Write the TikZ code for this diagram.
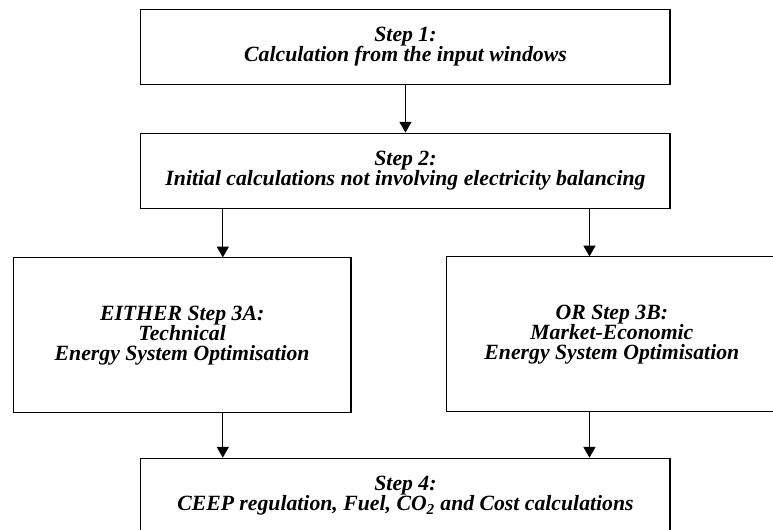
\documentclass[tikz,border=0pt]{standalone}
\usepackage{fontspec}
\setmainfont{Liberation Serif}
\usetikzlibrary{arrows.meta,positioning}
\newcommand\stepfont{\fontsize{16.3}{15}\selectfont\setlength{\lineskiplimit}{-10pt}\bfseries\itshape}
\tikzset{
  block/.style={draw=black, line width=0.8pt, align=center, fill=white,
    minimum width=396.75pt, minimum height=56.25pt, inner sep=4pt,
    font=\stepfont},
  tallblock/.style={block, minimum height=116.25pt},
  arr/.style={-{Triangle[length=8pt,width=9pt]}, line width=0.8pt}
}
\begin{document}
\begin{tikzpicture}
  \node[block] (s1) {Step 1:\\Calculation from the input windows};
  \useasboundingbox ([shift={(-304.1pt,34.9pt)}]s1.center) rectangle ++(579.75pt,-396.75pt);
  \node[block, below=36pt of s1] (s2) {Step 2:\\Initial calculations not involving electricity balancing};
  \node[tallblock, below=36.5pt of s2, xshift=-167.5pt, minimum width=253.3pt] (s3a)
    {EITHER Step 3A:\\Technical\\Energy System Optimisation};
  \node[tallblock, below=35.8pt of s2, xshift=154.8pt, minimum width=247.5pt, minimum height=116pt] (s3b)
    {OR Step 3B:\\Market-Economic\\Energy System Optimisation};
  \node[block, below=186.75pt of s2] (s4) {Step 4:\\CEEP regulation, Fuel, CO\textsubscript{2} and Cost calculations};
  \draw[arr] (s1) -- (s2);
  \draw[arr] ([xshift=-137pt]s2.south) -- ([xshift=-137pt]s2.south |- s3a.north);
  \draw[arr] ([xshift=138pt]s2.south) -- ([xshift=138pt]s2.south |- s3b.north);
  \draw[arr] ([xshift=-137pt]s4.north |- s3a.south) -- ([xshift=-137pt]s4.north);
  \draw[arr] ([xshift=138pt]s4.north |- s3b.south) -- ([xshift=138pt]s4.north);
\end{tikzpicture}
\end{document}
